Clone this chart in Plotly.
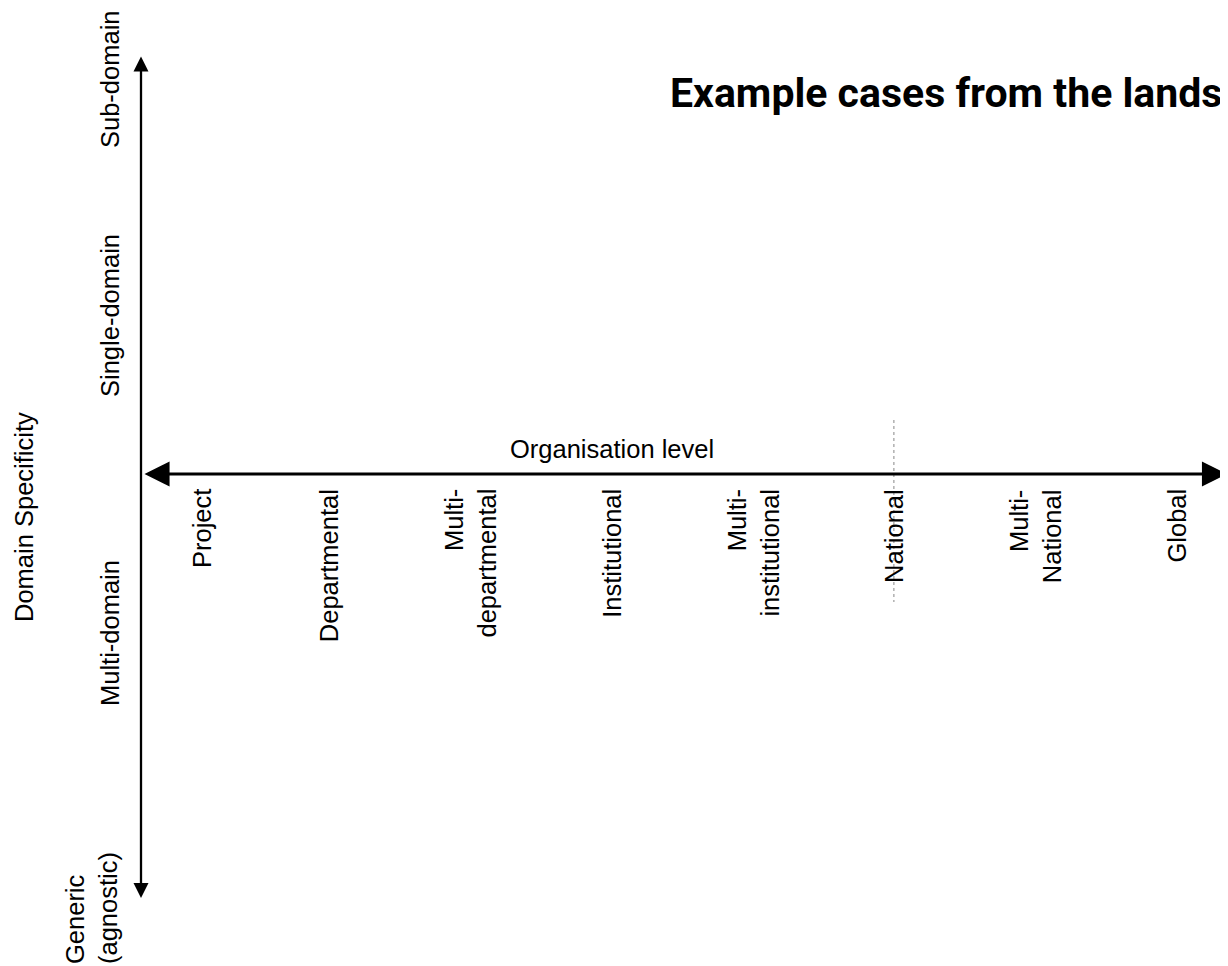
import plotly.graph_objects as go

W, H = 1228, 966
OFF = 8  # page body margin in the browser

# ---- content ----
title_text = "Example cases from the landscape"
x_axis_title = "Organisation level"
y_axis_title = "Domain Specificity"

org_levels = ["Project", "Departmental", "Multi-<br>departmental", "Institutional",
              "Multi-<br>institutional", "National", "Multi-<br>National", "Global"]
org_index = [0.1, 1, 2, 3, 4, 5, 6, 7]          # position along the organisation axis
national_index = 5                               # dotted marker at "National"

domain_levels = ["Sub-domain", "Single-domain", "Multi-domain", "Generic<br>(agnostic)"]
domain_y = [79, 316, 633, 966]                   # position along the specificity axis (screen px)

# ---- styling / layout ----
FONT = "Liberation Sans, Arial, sans-serif"
FS = 25.5
step = 141.3
x0_px = 187.4 - OFF
x_range = [-x0_px / step, (W - x0_px) / step]


def sx(v):  # screen x -> paper fraction
    return (v - OFF) / W


def sy(v):  # screen y -> y axis value
    return v - OFF


fig = go.Figure()
fig.add_trace(go.Scatter(x=[], y=[], hoverinfo="skip", showlegend=False))

ann = []
# category labels (rotated)
for lab, xi in zip(org_levels, org_index):
    ann.append(dict(x=xi, xref="x", y=sy(487), yref="y", text=lab, showarrow=False,
                    textangle=-90, xanchor="center", yanchor="top", align="right",
                    font=dict(family=FONT, size=FS, color="black")))

# domain labels (rotated)
for i, (lab, yv) in enumerate(zip(domain_levels, domain_y)):
    last = i == len(domain_levels) - 1
    ann.append(dict(x=sx(91 if last else 110), xref="paper", y=sy(yv), yref="y", text=lab,
                    showarrow=False, textangle=-90, xanchor="center",
                    yanchor="bottom" if last else "middle", align="left",
                    font=dict(family=FONT, size=FS, color="black")))

# axis titles
ann.append(dict(x=sx(612), xref="paper", y=sy(449), yref="y", text=x_axis_title, showarrow=False,
                xanchor="center", yanchor="middle",
                font=dict(family=FONT, size=FS, color="black")))
ann.append(dict(x=sx(24), xref="paper", y=sy(517), yref="y", text=y_axis_title, showarrow=False,
                textangle=-90, xanchor="center", yanchor="middle",
                font=dict(family=FONT, size=FS, color="black")))

# title
ann.append(dict(x=sx(668), xref="paper", y=sy(93), yref="y", text=title_text,
                showarrow=False, xanchor="left", yanchor="middle",
                font=dict(family="Roboto, Open Sans, sans-serif", size=41, weight=700,
                          color="black")))

# horizontal double arrow
ann.append(dict(x=sx(1227), xref="paper", y=sy(474), yref="y", ax=143 - 1227, ay=0,
                axref="pixel", ayref="pixel", text="", showarrow=True,
                arrowside="end+start", arrowhead=2, startarrowhead=2,
                arrowsize=1.67, startarrowsize=1.67, arrowwidth=3, arrowcolor="black",
                standoff=0, startstandoff=0))
# vertical double arrow
ann.append(dict(x=sx(141), xref="paper", y=sy(898), yref="y", ax=0, ay=55 - 898,
                axref="pixel", ayref="pixel", text="", showarrow=True,
                arrowside="end+start", arrowhead=2, startarrowhead=2,
                arrowsize=1.3, startarrowsize=1.3, arrowwidth=2.3, arrowcolor="black",
                standoff=0, startstandoff=0))

fig.update_layout(
    width=W, height=H,
    margin=dict(l=0, r=0, t=0, b=0),
    paper_bgcolor="white", plot_bgcolor="white",
    xaxis=dict(range=x_range, visible=False, fixedrange=True),
    yaxis=dict(range=[H, 0], visible=False, fixedrange=True),
    annotations=ann,
    shapes=[dict(type="line", xref="x", yref="y", x0=national_index, x1=national_index,
                 y0=sy(420), y1=sy(602), line=dict(color="#888888", width=1, dash="dot"))],
    showlegend=False,
)

fig.write_html("out.html")
